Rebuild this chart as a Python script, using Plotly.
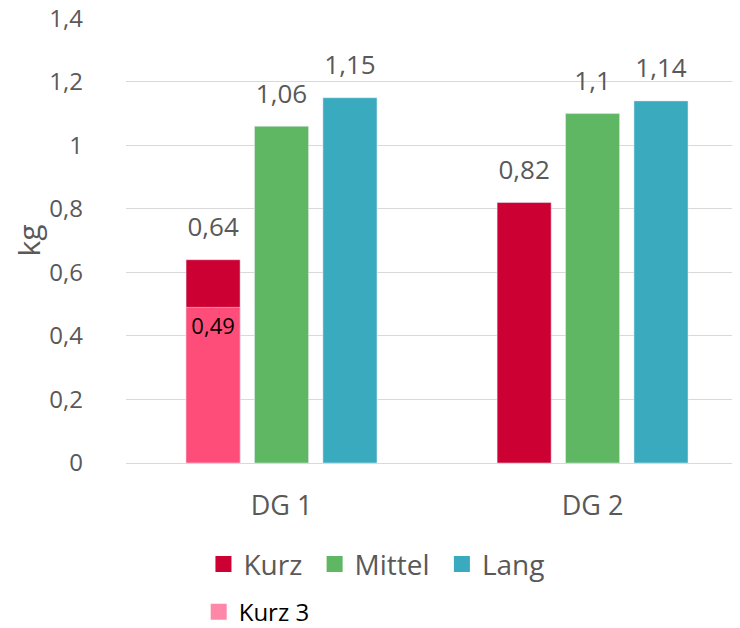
import plotly.graph_objects as go

categories = ["DG 1", "DG 2"]
kurz = [0.64, 0.82]
mittel = [1.06, 1.10]
lang = [1.15, 1.14]
kurz3 = [0.49, None]
y_ticks = [0, 0.2, 0.4, 0.6, 0.8, 1.0, 1.2, 1.4]


def lab(vals):
    return ["" if v is None else f"{v:g}".replace(".", ",") for v in vals]


FONT = "Open Sans"
GRAY = "#595959"
C_KURZ, C_MITTEL, C_LANG, C_K3, C_K3_LEG = "#CC0033", "#5FB663", "#3AABBE", "#FF4D7A", "#FF88A8"

fig = go.Figure()
fig.add_trace(go.Bar(name="Kurz", x=categories, y=kurz, marker_color=C_KURZ,
                     offsetgroup="k", showlegend=False))
fig.add_trace(go.Bar(name="Mittel", x=categories, y=mittel, marker_color=C_MITTEL,
                     offsetgroup="m", showlegend=False))
fig.add_trace(go.Bar(name="Lang", x=categories, y=lang, marker_color=C_LANG,
                     offsetgroup="l", showlegend=False))
fig.add_trace(go.Bar(name="Kurz 3", x=categories, y=kurz3,
                     marker_color=C_K3, text=lab(kurz3), textposition="inside",
                     insidetextanchor="end", textfont=dict(color="#000000", size=22, family=FONT),
                     constraintext="none", offsetgroup="k", showlegend=False))

# value labels above bars, aligned with the bar groups
for vals, grp in [(kurz, "k"), (mittel, "m"), (lang, "l")]:
    fig.add_trace(go.Scatter(x=categories, y=vals, mode="markers+text", text=lab(vals),
                             textposition="top center", offsetgroup=grp,
                             marker=dict(size=26, opacity=0),
                             textfont=dict(color=GRAY, size=26, family=FONT),
                             cliponaxis=False, showlegend=False, hoverinfo="skip"))

# legend entries (square swatches)
for nm, col, lg in [("Kurz&nbsp;", C_KURZ, "legend"), ("Mittel&nbsp;", C_MITTEL, "legend"),
                    ("Lang", C_LANG, "legend"),
                    ("<span style='color:#000000'>Kurz 3</span>", C_K3_LEG, "legend2")]:
    fig.add_trace(go.Scatter(x=[None], y=[None], mode="markers", name=nm,
                             marker=dict(symbol="square", size=18, color=col),
                             legend=lg, showlegend=True, hoverinfo="skip"))

fig.update_layout(
    width=732, height=620,
    margin=dict(l=118, r=0, t=10, b=165, autoexpand=False),
    paper_bgcolor="white", plot_bgcolor="white",
    separators=",.",
    barmode="group", bargap=0.34, bargroupgap=0.21,
    scattermode="group", scattergap=0.34,
    font=dict(family=FONT, color=GRAY),
    showlegend=True,
    xaxis=dict(type="category", range=[-0.5, 1.474], tickfont=dict(size=27, color=GRAY),
               showgrid=False, zeroline=False, ticks="", showline=False,
               automargin=False, ticklabelstandoff=24),
    yaxis=dict(range=[0, 1.401], tickvals=y_ticks, tickfont=dict(size=24, color=GRAY),
               showgrid=True, gridcolor="#D9D9D9", gridwidth=1.3, zeroline=True,
               zerolinecolor="#D9D9D9", zerolinewidth=1.3, ticks="", ticklen=0,
               automargin=False, ticklabelstandoff=42, ticklabeloverflow="allow",
               title=dict(text="kg", font=dict(size=30, color=GRAY), standoff=5)),
    legend=dict(orientation="h", xref="container", yref="container",
                x=0.267, xanchor="left", y=0.143, yanchor="top",
                font=dict(size=28, color=GRAY), traceorder="normal"),
    legend2=dict(orientation="h", xref="container", yref="container",
                 x=0.2605, xanchor="left", y=0.062, yanchor="top",
                 font=dict(size=24, color="#000000")),
)

fig.write_html("out.html")
